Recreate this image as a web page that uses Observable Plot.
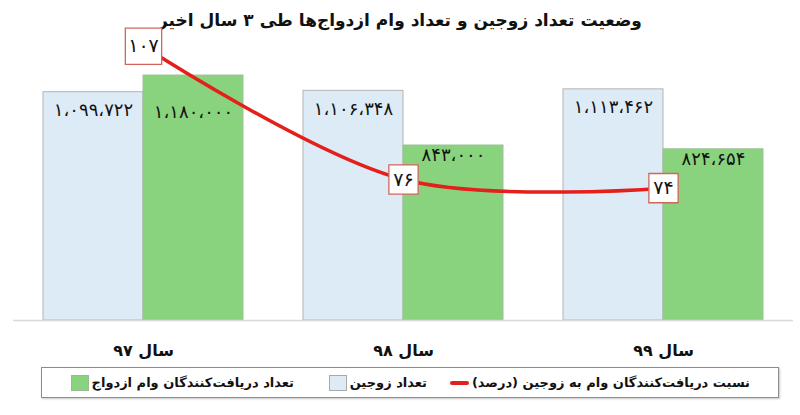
<!DOCTYPE html>
<html lang="fa">
<head>
<meta charset="utf-8">
<script src="https://cdn.jsdelivr.net/npm/d3@7"></script>
<script src="https://cdn.jsdelivr.net/npm/@observablehq/plot@0.6"></script>
<style>
  html, body { margin: 0; padding: 0; background: #fff; }
  #wrap { position: relative; width: 800px; height: 415px; overflow: hidden; font-family: "DejaVu Sans", sans-serif; }
  #title { position: absolute; left: 0; top: 0; width: 800px; height: 30px; text-align: center; direction: rtl;
           font: bold 17px "DejaVu Sans", sans-serif; line-height: 40px; color: #111; }
  #chart { position: absolute; left: 0; top: 30px; }
  #legend { position: absolute; left: 41px; top: 367px; width: 738px; height: 31px; box-sizing: border-box;
            border: 1px solid #8c8c8c; box-shadow: 1px 1px 2px #c8c8c8; background: #fff; }
  .item { position: absolute; top: 0; height: 29px; display: flex; align-items: center; direction: rtl;
          font: bold 13px "DejaVu Sans", sans-serif; color: #111; white-space: nowrap; }
  .sw { display: inline-block; margin-right: 3px; }
</style>
</head>
<body>
<div id="wrap">
  <div id="title">وضعیت تعداد زوجین و تعداد وام ازدواج‌ها طی ۳ سال اخیر</div>
  <div id="chart"></div>
  <div id="legend">
    <div class="item" style="right:28px"><span>نسبت دریافت‌کنندگان وام به زوجین (درصد)</span><span class="sw" style="width:19px;height:4px;background:#e3201b;border-radius:2px"></span></div>
    <div class="item" style="right:351px"><span>تعداد زوجین</span><span class="sw" style="width:18px;height:16px;background:#ddebf6;border:1px solid #a9a9a9;box-sizing:border-box"></span></div>
    <div class="item" style="right:484px"><span>تعداد دریافت‌کنندگان وام ازدواج</span><span class="sw" style="width:18px;height:16px;background:#89d37f;border:1px solid #9bb896;box-sizing:border-box"></span></div>
  </div>
</div>
<script>
// ---- data ----
const years = [97, 98, 99];
const couples = [1099722, 1106348, 1113462];       // تعداد زوجین
const loans = [1180000, 843000, 824654];           // تعداد دریافت‌کنندگان وام ازدواج
const ratio = [107, 76, 74];                        // نسبت (درصد)

const data = years.map((y, i) => ({year: y, couples: couples[i], loans: loans[i], ratio: ratio[i]}));

const faDigits = "۰۱۲۳۴۵۶۷۸۹";
const fa = s => String(s).replace(/\d/g, d => faDigits[d]);
const faNum = v => fa(d3.format(",")(v)).replace(/,/g, "،");

// secondary axis: ratio (%) mapped into the bar-value space
const ratioY = d3.scaleLinear().domain([76, 107]).range([679000, 1321000]);

const chart = Plot.plot({
  width: 800,
  height: 336,
  marginLeft: 13,
  marginRight: 7,
  marginTop: 0,
  marginBottom: 46,
  style: {fontFamily: "DejaVu Sans, sans-serif", overflow: "visible", background: "transparent"},
  x: {domain: years, paddingInner: 0.2308, paddingOuter: 0.1154, axis: null, label: null},
  y: {domain: [0, 1397000], axis: null},
  marks: [
    Plot.barY(data, {x: "year", y: "couples", insetRight: 100, fill: "#ddebf6", stroke: "#b3b3b3", strokeWidth: 1}),
    Plot.barY(data, {x: "year", y: "loans", insetLeft: 100, fill: "#89d37f", stroke: "#9dbf97", strokeWidth: 1}),
    Plot.ruleY([0], {stroke: "#d9d9d9", strokeWidth: 1.5}),
    Plot.text(data, {x: "year", y: "couples", dx: -50, dy: 18, text: d => faNum(d.couples), fontSize: 18, fill: "#111"}),
    Plot.text(data, {x: "year", y: d => Math.min(d.loans, 1050000), dx: 50, dy: 10, text: d => faNum(d.loans), fontSize: 18, fill: "#111"}),
    Plot.line(data, {x: "year", y: d => ratioY(d.ratio), stroke: "#e3201b", strokeWidth: 3.5, curve: "catmull-rom"}),
    Plot.dot(data, {filter: d => d.ratio > 100, x: "year", y: d => ratioY(d.ratio), symbol: "square", r: 20.5, fill: "#fff", stroke: "#d2655c", strokeWidth: 1.3}),
    Plot.dot(data, {filter: d => d.ratio <= 100, x: "year", y: d => ratioY(d.ratio), symbol: "square", r: 16.5, fill: "#fff", stroke: "#d2655c", strokeWidth: 1.3}),
    Plot.text(data, {x: "year", y: d => ratioY(d.ratio), text: d => fa(d.ratio), fontSize: 19, fill: "#111"}),
    Plot.axisX({tickSize: 0, tickPadding: 24, fontSize: 16, fontWeight: "bold", label: null, tickFormat: d => "سال " + fa(d), fill: "#111"})
  ]
});
document.getElementById("chart").appendChild(chart);
</script>
</body>
</html>
